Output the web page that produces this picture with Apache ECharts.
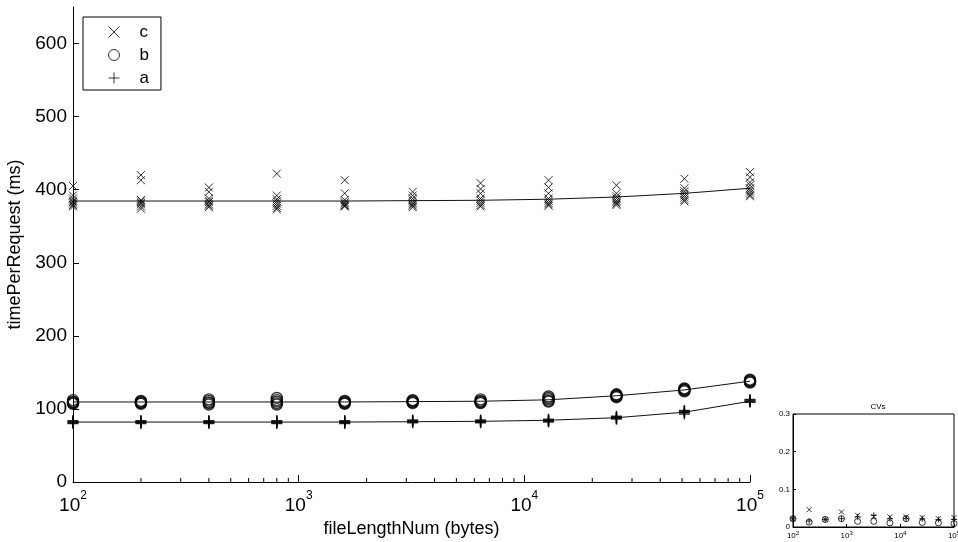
<!DOCTYPE html>
<html>
<head>
<meta charset="utf-8">
<script src="https://cdn.jsdelivr.net/npm/echarts@6/dist/echarts.min.js"></script>
<style>
html,body{margin:0;padding:0;background:#fff;}
#chart{width:958px;height:542px;}
</style>
</head>
<body>
<div id="chart"></div>
<script>
// ---- data ----
const xValues = [100, 200, 400, 800, 1600, 3200, 6400, 12800, 25600, 51200, 100000];

// individual runs (timePerRequest, ms) per x value
const cRuns = [
  [405, 392, 388, 385, 383, 381, 379, 377],
  [420, 413, 386, 384, 382, 380, 377, 374],
  [403, 397, 388, 385, 383, 380, 378, 376],
  [422, 392, 387, 384, 381, 378, 375, 373],
  [413, 395, 386, 383, 381, 379, 378, 377],
  [397, 392, 388, 385, 382, 380, 378, 376],
  [409, 401, 395, 388, 385, 382, 379, 377],
  [413, 403, 395, 388, 385, 382, 380, 378],
  [406, 395, 391, 388, 385, 383, 381, 379],
  [415, 402, 398, 395, 392, 389, 386, 384],
  [424, 417, 410, 406, 402, 399, 396, 393, 391]
];
const bRuns = [
  [112, 110, 109, 108, 107],
  [111, 110, 109, 108, 107],
  [113, 111, 109, 108, 106],
  [115, 112, 110, 108, 106],
  [111, 110, 109, 108, 107],
  [112, 111, 110, 109, 108],
  [113, 111, 110, 109, 108],
  [117, 115, 113, 111, 110],
  [120, 119, 118, 117, 116],
  [128, 127, 126, 125, 124],
  [140, 139, 138, 137, 136]
];
const aRuns = [
  [84, 83, 82, 81, 80],
  [84, 83, 82, 81, 80],
  [84, 83, 82, 81, 80],
  [84, 83, 82, 81, 80],
  [84, 83, 82, 81, 80],
  [85, 84, 83, 82, 81],
  [85, 84, 83, 82, 81],
  [86, 85, 84, 83, 82],
  [90, 89, 88, 87, 86],
  [98, 97, 96, 95, 93],
  [113, 112, 111, 110, 109]
];
// mean lines
const cLine = [384.5, 384.5, 384.5, 384.5, 384.5, 385, 385.5, 387, 390, 395, 402];
const bLine = [109.5, 109.5, 109.5, 109.5, 109.5, 110, 110.5, 112.5, 118, 126, 138];
const aLine = [82, 82, 82, 82, 82, 82.5, 83, 84.5, 88, 95.5, 110.5];

// coefficients of variation (inset)
const cCV = [0.022, 0.046, 0.020, 0.040, 0.031, 0.028, 0.027, 0.027, 0.025, 0.022, 0.025];
const bCV = [0.022, 0.013, 0.020, 0.022, 0.015, 0.015, 0.011, 0.022, 0.012, 0.011, 0.009];
const aCV = [0.022, 0.016, 0.020, 0.022, 0.027, 0.031, 0.022, 0.022, 0.022, 0.020, 0.020];

const yTicks = [0, 100, 200, 300, 400, 500, 600];
const insetYTicks = [0, 0.1, 0.2, 0.3];
const minorTickValues = [200, 300, 400, 500, 600, 700, 800, 900,
  2000, 3000, 4000, 5000, 6000, 7000, 8000, 9000,
  20000, 30000, 40000, 50000, 60000, 70000, 80000, 90000];

const seriesNames = ['c', 'b', 'a'];
const yName = 'timePerRequest (ms)';
const xName = 'fileLengthNum (bytes)';
const insetTitle = 'CVs';

// ---- build ----
const FONT = 'Liberation Sans, Arial, Helvetica, sans-serif';
const X_PATH = 'path://M0,0L10,10M10,0L0,10';
const P_PATH = 'path://M5,0L5,10M0,5L10,5';
const hollow = { color: 'none', borderColor: '#000', borderWidth: 1 };

function flatten(runs) {
  const out = [];
  runs.forEach((r, i) => r.forEach(v => out.push([xValues[i], v])));
  return out;
}
function pairs(arr) { return arr.map((v, i) => [xValues[i], v]); }

function powLabel(v) {
  const e = Math.round(Math.log10(v));
  return '{b|10}{s|' + e + '}';
}

const chart = echarts.init(document.getElementById('chart'), null, { renderer: 'canvas' });

const option = {
  animation: false,
  backgroundColor: '#fff',
  textStyle: { fontFamily: FONT, color: '#000' },
  title: {
    text: insetTitle,
    left: 873, top: 398, textAlign: 'center',
    textStyle: { fontSize: 8, fontWeight: 'normal', color: '#000', fontFamily: FONT }
  },
  legend: {
    left: 83, top: 17, orient: 'vertical',
    data: [
      { name: seriesNames[0], icon: X_PATH, itemStyle: hollow },
      { name: seriesNames[1], icon: 'circle', itemStyle: hollow },
      { name: seriesNames[2], icon: P_PATH, itemStyle: hollow }
    ],
    itemWidth: 11, itemHeight: 11, itemGap: 5,
    padding: [6, 12, 3, 23],
    borderColor: '#000', borderWidth: 1, borderRadius: 0,
    backgroundColor: '#fff',
    selectedMode: false,
    textStyle: { fontSize: 17, color: '#000', fontFamily: FONT, lineHeight: 18, padding: [0, 0, 0, 15] }
  },
  grid: [
    { left: 73, right: 208, top: 7, bottom: 60, outerBoundsMode: 'none' },
    { left: 793, right: 4, top: 414, bottom: 15, show: true, borderColor: '#000', borderWidth: 1, backgroundColor: 'transparent', outerBoundsMode: 'none' }
  ],
  xAxis: [
    {
      gridIndex: 0, type: 'log', logBase: 10, min: 100, max: 100000,
      name: xName, nameLocation: 'middle', nameGap: 33,
      nameTextStyle: { fontSize: 18, color: '#000', fontFamily: FONT },
      axisLine: { lineStyle: { color: '#000', width: 1 } },
      axisTick: { inside: true, length: 7, lineStyle: { color: '#000' } },
      splitLine: { show: false },
      axisLabel: {
        margin: 8, color: '#000', formatter: powLabel,
        rich: {
          b: { fontSize: 19, fontFamily: FONT, color: '#000', padding: [6, 0, 0, 0], verticalAlign: 'bottom' },
          s: { fontSize: 12, fontFamily: FONT, color: '#000', verticalAlign: 'top' }
        }
      }
    },
    {
      gridIndex: 1, type: 'log', logBase: 10, min: 100, max: 100000,
      axisLine: { lineStyle: { color: '#000', width: 1 } },
      axisTick: { inside: true, length: 3, lineStyle: { color: '#000' } },
      splitLine: { show: false },
      axisLabel: {
        margin: 3, color: '#000', formatter: powLabel,
        rich: {
          b: { fontSize: 8, fontFamily: FONT, color: '#000', padding: [2, 0, 0, 0], verticalAlign: 'bottom' },
          s: { fontSize: 6, fontFamily: FONT, color: '#000', verticalAlign: 'top' }
        }
      }
    }
  ],
  yAxis: [
    {
      gridIndex: 0, type: 'value', min: 0, max: 650,
      name: yName, nameLocation: 'middle', nameGap: 45, nameRotate: 90,
      nameTextStyle: { fontSize: 18, color: '#000', fontFamily: FONT },
      axisLine: { show: true, lineStyle: { color: '#000', width: 1 } },
      axisTick: { show: true, inside: true, length: 6, customValues: yTicks, lineStyle: { color: '#000' } },
      splitLine: { show: false },
      axisLabel: { customValues: yTicks, fontSize: 19, color: '#000', margin: 6, fontFamily: FONT }
    },
    {
      gridIndex: 1, type: 'value', min: 0, max: 0.3, interval: 0.1,
      axisLine: { show: true, lineStyle: { color: '#000', width: 1 } },
      axisTick: { show: true, inside: true, length: 3, customValues: insetYTicks, lineStyle: { color: '#000' } },
      splitLine: { show: false },
      axisLabel: { customValues: insetYTicks, fontSize: 8, color: '#000', margin: 3, fontFamily: FONT,
        formatter: v => String(Math.round(v * 10) / 10) }
    }
  ],
  series: [
    // mean lines
    { name: 'c-mean', type: 'line', data: pairs(cLine), symbol: 'none', lineStyle: { color: '#111', width: 1 }, z: 1, silent: true },
    { name: 'b-mean', type: 'line', data: pairs(bLine), symbol: 'none', lineStyle: { color: '#111', width: 1 }, z: 1, silent: true },
    { name: 'a-mean', type: 'line', data: pairs(aLine), symbol: 'none', lineStyle: { color: '#111', width: 1 }, z: 1, silent: true },
    // runs
    { name: seriesNames[0], type: 'scatter', data: flatten(cRuns), symbol: X_PATH, symbolSize: 8, itemStyle: hollow, z: 3, clip: false },
    { name: seriesNames[1], type: 'scatter', data: flatten(bRuns), symbol: 'circle', symbolSize: 11, itemStyle: { color: 'none', borderColor: '#000', borderWidth: 1.4 }, z: 3, clip: false },
    { name: seriesNames[2], type: 'scatter', data: flatten(aRuns), symbol: P_PATH, symbolSize: 11, itemStyle: { color: 'none', borderColor: '#000', borderWidth: 1.4 }, z: 3, clip: false },
    // minor ticks on the log axis
    {
      name: 'minorTicks', type: 'custom', silent: true, z: 5,
      data: minorTickValues.map(v => [v, 0]),
      renderItem: function (params, api) {
        const p = api.coord([api.value(0), 0]);
        return { type: 'line', shape: { x1: p[0], y1: p[1], x2: p[0], y2: p[1] - 4 }, style: { stroke: '#000', lineWidth: 1 } };
      }
    },
    // inset CVs
    { name: 'c-cv', type: 'scatter', xAxisIndex: 1, yAxisIndex: 1, data: pairs(cCV), symbol: X_PATH, symbolSize: 5, itemStyle: hollow, clip: false },
    { name: 'b-cv', type: 'scatter', xAxisIndex: 1, yAxisIndex: 1, data: pairs(bCV), symbol: 'circle', symbolSize: 6, itemStyle: hollow, clip: false },
    { name: 'a-cv', type: 'scatter', xAxisIndex: 1, yAxisIndex: 1, data: pairs(aCV), symbol: P_PATH, symbolSize: 6, itemStyle: hollow, clip: false }
  ]
};
chart.setOption(option);
</script>
</body>
</html>
